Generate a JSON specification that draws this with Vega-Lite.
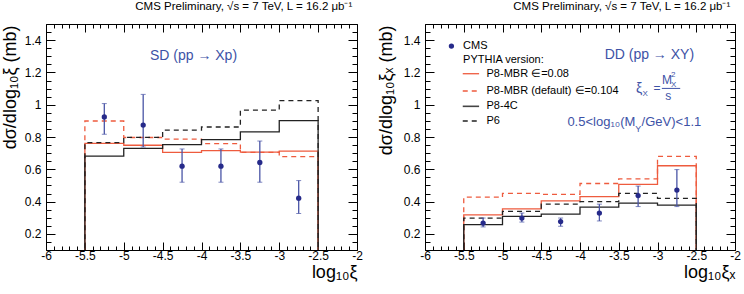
{
"$schema": "https://vega.github.io/schema/vega-lite/v6.json",
"padding": {"left": 0, "top": 0, "right": 0, "bottom": 0},
"background": "white",
"spacing": 13,
"config": {
  "view": {"stroke": "black", "strokeWidth": 1},
  "font": "Liberation Sans",
  "axis": {"domain": false, "grid": false, "labelFont": "Liberation Sans", "labelFontSize": 12, "labelColor": "black", "tickColor": "black", "tickWidth": 1, "titleFont": "Liberation Sans", "titleFontWeight": "normal", "titleColor": "black", "labelOverlap": false, "labelFlush": false, "labelBound": false},
  "title": {"font": "Liberation Sans", "fontWeight": "normal", "fontSize": 11.5, "color": "black", "anchor": "end", "dx": -10, "offset": 6, "baseline": "alphabetic"}
},
"datasets": {
  "hist": [
    {"panel":"SD","model":"P8-4C","i":0,"x":-5.5,"y":0},
    {"panel":"SD","model":"P8-4C","i":1,"x":-5.5,"y":0.681},
    {"panel":"SD","model":"P8-4C","i":2,"x":-5,"y":0.730},
    {"panel":"SD","model":"P8-4C","i":3,"x":-4.5,"y":0.753},
    {"panel":"SD","model":"P8-4C","i":4,"x":-4,"y":0.784},
    {"panel":"SD","model":"P8-4C","i":5,"x":-3.5,"y":0.832},
    {"panel":"SD","model":"P8-4C","i":6,"x":-3,"y":0.901},
    {"panel":"SD","model":"P8-4C","i":7,"x":-2.5,"y":0.901},
    {"panel":"SD","model":"P8-4C","i":8,"x":-2.5,"y":0},
    {"panel":"SD","model":"P6","i":0,"x":-5.5,"y":0},
    {"panel":"SD","model":"P6","i":1,"x":-5.5,"y":0.765},
    {"panel":"SD","model":"P6","i":2,"x":-5,"y":0.798},
    {"panel":"SD","model":"P6","i":3,"x":-4.5,"y":0.843},
    {"panel":"SD","model":"P6","i":4,"x":-4,"y":0.862},
    {"panel":"SD","model":"P6","i":5,"x":-3.5,"y":0.966},
    {"panel":"SD","model":"P6","i":6,"x":-3,"y":1.025},
    {"panel":"SD","model":"P6","i":7,"x":-2.5,"y":1.025},
    {"panel":"SD","model":"P6","i":8,"x":-2.5,"y":0},
    {"panel":"SD","model":"MBR008","i":0,"x":-5.5,"y":0},
    {"panel":"SD","model":"MBR008","i":1,"x":-5.5,"y":0.760},
    {"panel":"SD","model":"MBR008","i":2,"x":-5,"y":0.749},
    {"panel":"SD","model":"MBR008","i":3,"x":-4.5,"y":0.705},
    {"panel":"SD","model":"MBR008","i":4,"x":-4,"y":0.716},
    {"panel":"SD","model":"MBR008","i":5,"x":-3.5,"y":0.706},
    {"panel":"SD","model":"MBR008","i":6,"x":-3,"y":0.713},
    {"panel":"SD","model":"MBR008","i":7,"x":-2.5,"y":0.713},
    {"panel":"SD","model":"MBR008","i":8,"x":-2.5,"y":0},
    {"panel":"SD","model":"MBRdef","i":0,"x":-5.5,"y":0},
    {"panel":"SD","model":"MBRdef","i":1,"x":-5.5,"y":0.899},
    {"panel":"SD","model":"MBRdef","i":2,"x":-5,"y":0.797},
    {"panel":"SD","model":"MBRdef","i":3,"x":-4.5,"y":0.787},
    {"panel":"SD","model":"MBRdef","i":4,"x":-4,"y":0.759},
    {"panel":"SD","model":"MBRdef","i":5,"x":-3.5,"y":0.705},
    {"panel":"SD","model":"MBRdef","i":6,"x":-3,"y":0.679},
    {"panel":"SD","model":"MBRdef","i":7,"x":-2.5,"y":0.679},
    {"panel":"SD","model":"MBRdef","i":8,"x":-2.5,"y":0},
    {"panel":"DD","model":"P8-4C","i":0,"x":-5.5,"y":0},
    {"panel":"DD","model":"P8-4C","i":1,"x":-5.5,"y":0.257},
    {"panel":"DD","model":"P8-4C","i":2,"x":-5,"y":0.308},
    {"panel":"DD","model":"P8-4C","i":3,"x":-4.5,"y":0.322},
    {"panel":"DD","model":"P8-4C","i":4,"x":-4,"y":0.365},
    {"panel":"DD","model":"P8-4C","i":5,"x":-3.5,"y":0.390},
    {"panel":"DD","model":"P8-4C","i":6,"x":-3,"y":0.378},
    {"panel":"DD","model":"P8-4C","i":7,"x":-2.5,"y":0.378},
    {"panel":"DD","model":"P8-4C","i":8,"x":-2.5,"y":0},
    {"panel":"DD","model":"P6","i":0,"x":-5.5,"y":0},
    {"panel":"DD","model":"P6","i":1,"x":-5.5,"y":0.298},
    {"panel":"DD","model":"P6","i":2,"x":-5,"y":0.339},
    {"panel":"DD","model":"P6","i":3,"x":-4.5,"y":0.384},
    {"panel":"DD","model":"P6","i":4,"x":-4,"y":0.400},
    {"panel":"DD","model":"P6","i":5,"x":-3.5,"y":0.451},
    {"panel":"DD","model":"P6","i":6,"x":-3,"y":0.420},
    {"panel":"DD","model":"P6","i":7,"x":-2.5,"y":0.420},
    {"panel":"DD","model":"P6","i":8,"x":-2.5,"y":0},
    {"panel":"DD","model":"MBR008","i":0,"x":-5.5,"y":0},
    {"panel":"DD","model":"MBR008","i":1,"x":-5.5,"y":0.318},
    {"panel":"DD","model":"MBR008","i":2,"x":-5,"y":0.355},
    {"panel":"DD","model":"MBR008","i":3,"x":-4.5,"y":0.404},
    {"panel":"DD","model":"MBR008","i":4,"x":-4,"y":0.431},
    {"panel":"DD","model":"MBR008","i":5,"x":-3.5,"y":0.506},
    {"panel":"DD","model":"MBR008","i":6,"x":-3,"y":0.622},
    {"panel":"DD","model":"MBR008","i":7,"x":-2.5,"y":0.622},
    {"panel":"DD","model":"MBR008","i":8,"x":-2.5,"y":0},
    {"panel":"DD","model":"MBRdef","i":0,"x":-5.5,"y":0},
    {"panel":"DD","model":"MBRdef","i":1,"x":-5.5,"y":0.427},
    {"panel":"DD","model":"MBRdef","i":2,"x":-5,"y":0.451},
    {"panel":"DD","model":"MBRdef","i":3,"x":-4.5,"y":0.445},
    {"panel":"DD","model":"MBRdef","i":4,"x":-4,"y":0.512},
    {"panel":"DD","model":"MBRdef","i":5,"x":-3.5,"y":0.541},
    {"panel":"DD","model":"MBRdef","i":6,"x":-3,"y":0.680},
    {"panel":"DD","model":"MBRdef","i":7,"x":-2.5,"y":0.680},
    {"panel":"DD","model":"MBRdef","i":8,"x":-2.5,"y":0}
  ],
  "cms": [
    {"panel":"SD","x":-5.25,"y":0.924,"lo":0.817,"hi":1.007},
    {"panel":"SD","x":-4.75,"y":0.874,"lo":0.738,"hi":1.064},
    {"panel":"SD","x":-4.25,"y":0.619,"lo":0.520,"hi":0.726},
    {"panel":"SD","x":-3.75,"y":0.619,"lo":0.520,"hi":0.726},
    {"panel":"SD","x":-3.25,"y":0.642,"lo":0.520,"hi":0.775},
    {"panel":"SD","x":-2.75,"y":0.421,"lo":0.326,"hi":0.530},
    {"panel":"DD","x":-5.25,"y":0.267,"lo":0.243,"hi":0.298},
    {"panel":"DD","x":-4.75,"y":0.298,"lo":0.273,"hi":0.329},
    {"panel":"DD","x":-4.25,"y":0.276,"lo":0.247,"hi":0.298},
    {"panel":"DD","x":-3.75,"y":0.329,"lo":0.280,"hi":0.384},
    {"panel":"DD","x":-3.25,"y":0.437,"lo":0.369,"hi":0.496},
    {"panel":"DD","x":-2.75,"y":0.471,"lo":0.369,"hi":0.598}
  ],
  "legend": [
    {"label":"CMS","x":-5.509,"y":1.363},
    {"label":"PYTHIA version:","x":-5.509,"y":1.279},
    {"label":"P8-MBR ∈=0.08","x":-5.206,"y":1.192},
    {"label":"P8-MBR (default) ∈=0.104","x":-5.206,"y":1.085},
    {"label":"P8-4C","x":-5.206,"y":0.990},
    {"label":"P6","x":-5.206,"y":0.899}
  ]
},
"hconcat": [
{
  "width": 311, "height": 226,
  "title": {"text": "CMS Preliminary, √s = 7 TeV, L = 16.2 μb⁻¹"},
  "resolve": {"axis": {"x": "independent", "y": "independent"}},
  "layer": [
    {"data": {"name": "hist"}, "transform": [{"filter": "datum.panel == 'SD' && datum.model == 'MBRdef'"}],
     "mark": {"type": "line", "interpolate": "step-after", "clip": true, "color": "#ee5b3e", "strokeWidth": 1.3, "strokeDash": [5,4]},
     "encoding": {
       "x": {"field": "x", "type": "quantitative", "scale": {"domain": [-6,-2], "nice": false, "zero": false},
             "axis": {"orient": "top", "values": [-6,-5.9,-5.8,-5.7,-5.6,-5.5,-5.4,-5.3,-5.2,-5.1,-5,-4.9,-4.8,-4.7,-4.6,-4.5,-4.4,-4.3,-4.2,-4.1,-4,-3.9,-3.8,-3.7,-3.6,-3.5,-3.4,-3.3,-3.2,-3.1,-3,-2.9,-2.8,-2.7,-2.6,-2.5,-2.4,-2.3,-2.2,-2.1,-2],
                      "tickSize": {"condition": {"test": "abs(datum.value*2-round(datum.value*2))<1e-6", "value": -8}, "value": -4},
                      "labels": false, "title": null}},
       "y": {"field": "y", "type": "quantitative", "scale": {"domain": [0.1,1.5], "nice": false, "zero": false},
             "axis": {"orient": "right", "values": [0.1,0.15,0.2,0.25,0.3,0.35,0.4,0.45,0.5,0.55,0.6,0.65,0.7,0.75,0.8,0.85,0.9,0.95,1,1.05,1.1,1.15,1.2,1.25,1.3,1.35,1.4,1.45,1.5],
                      "tickSize": {"condition": {"test": "abs(datum.value*5-round(datum.value*5))<1e-6", "value": -9}, "value": -5},
                      "labels": false, "title": null}},
       "order": {"field": "i"}}},
    {"data": {"name": "hist"}, "transform": [{"filter": "datum.panel == 'SD' && datum.model == 'MBR008'"}],
     "mark": {"type": "line", "interpolate": "step-after", "clip": true, "color": "#ee5b3e", "strokeWidth": 1.3},
     "encoding": {"x": {"field": "x", "type": "quantitative", "axis": null}, "y": {"field": "y", "type": "quantitative", "axis": null}, "order": {"field": "i"}}},
    {"data": {"name": "hist"}, "transform": [{"filter": "datum.panel == 'SD' && datum.model == 'P6'"}],
     "mark": {"type": "line", "interpolate": "step-after", "clip": true, "color": "#222222", "strokeWidth": 1.3, "strokeDash": [5,4]},
     "encoding": {"x": {"field": "x", "type": "quantitative", "axis": null}, "y": {"field": "y", "type": "quantitative", "axis": null}, "order": {"field": "i"}}},
    {"data": {"name": "hist"}, "transform": [{"filter": "datum.panel == 'SD' && datum.model == 'P8-4C'"}],
     "mark": {"type": "line", "interpolate": "step-after", "clip": true, "color": "#222222", "strokeWidth": 1.3},
     "encoding": {
       "x": {"field": "x", "type": "quantitative",
             "axis": {"orient": "bottom", "values": [-6,-5.9,-5.8,-5.7,-5.6,-5.5,-5.4,-5.3,-5.2,-5.1,-5,-4.9,-4.8,-4.7,-4.6,-4.5,-4.4,-4.3,-4.2,-4.1,-4,-3.9,-3.8,-3.7,-3.6,-3.5,-3.4,-3.3,-3.2,-3.1,-3,-2.9,-2.8,-2.7,-2.6,-2.5,-2.4,-2.3,-2.2,-2.1,-2],
                      "tickSize": {"condition": {"test": "abs(datum.value*2-round(datum.value*2))<1e-6", "value": -8}, "value": -4},
                      "labelExpr": "abs(datum.value*2-round(datum.value*2))<1e-6 ? toString(datum.value) : ''",
                      "labelPadding": 8,
                      "title": "log₁₀ξ", "titleFontSize": 18, "titleX": 311, "titleY": 27, "titleAlign": "right", "titleBaseline": "alphabetic"}},
       "y": {"field": "y", "type": "quantitative",
             "axis": {"orient": "left", "values": [0.1,0.15,0.2,0.25,0.3,0.35,0.4,0.45,0.5,0.55,0.6,0.65,0.7,0.75,0.8,0.85,0.9,0.95,1,1.05,1.1,1.15,1.2,1.25,1.3,1.35,1.4,1.45,1.5],
                      "tickSize": {"condition": {"test": "abs(datum.value*5-round(datum.value*5))<1e-6", "value": -9}, "value": -5},
                      "labelExpr": "abs(datum.value*5-round(datum.value*5))<1e-6 ? toString(datum.value) : ''",
                      "labelPadding": 14,
                      "title": "dσ/dlog₁₀ξ (mb)", "titleFontSize": 18, "titleAngle": 270, "titleX": -31, "titleY": 1, "titleAlign": "right", "titleBaseline": "alphabetic"}},
       "order": {"field": "i"}}},
    {"data": {"name": "cms"}, "transform": [{"filter": "datum.panel == 'SD'"}],
     "mark": {"type": "errorbar", "ticks": {"size": 5, "color": "#4a55a6"}, "rule": {"color": "#4a55a6", "strokeWidth": 1.3}},
     "encoding": {"x": {"field": "x", "type": "quantitative", "axis": null}, "y": {"field": "lo", "type": "quantitative", "axis": null}, "y2": {"field": "hi"}}},
    {"data": {"name": "cms"}, "transform": [{"filter": "datum.panel == 'SD'"}],
     "mark": {"type": "point", "filled": true, "size": 28, "color": "#262a8a", "opacity": 1},
     "encoding": {"x": {"field": "x", "type": "quantitative", "axis": null}, "y": {"field": "y", "type": "quantitative", "axis": null}}},
    {"data": {"values": [{}]},
     "mark": {"type": "text", "text": "SD (pp → Xp)", "fontSize": 14, "color": "#3d52a6", "align": "center", "baseline": "middle"},
     "encoding": {"x": {"datum": -4.103, "type": "quantitative", "axis": null}, "y": {"datum": 1.299, "type": "quantitative", "axis": null}}}
  ]
},
{
  "width": 310, "height": 226,
  "title": {"text": "CMS Preliminary, √s = 7 TeV, L = 16.2 μb⁻¹"},
  "resolve": {"axis": {"x": "independent", "y": "independent"}},
  "layer": [
    {"data": {"name": "hist"}, "transform": [{"filter": "datum.panel == 'DD' && datum.model == 'MBRdef'"}],
     "mark": {"type": "line", "interpolate": "step-after", "clip": true, "color": "#ee5b3e", "strokeWidth": 1.3, "strokeDash": [5,4]},
     "encoding": {
       "x": {"field": "x", "type": "quantitative", "scale": {"domain": [-6,-2], "nice": false, "zero": false},
             "axis": {"orient": "top", "values": [-6,-5.9,-5.8,-5.7,-5.6,-5.5,-5.4,-5.3,-5.2,-5.1,-5,-4.9,-4.8,-4.7,-4.6,-4.5,-4.4,-4.3,-4.2,-4.1,-4,-3.9,-3.8,-3.7,-3.6,-3.5,-3.4,-3.3,-3.2,-3.1,-3,-2.9,-2.8,-2.7,-2.6,-2.5,-2.4,-2.3,-2.2,-2.1,-2],
                      "tickSize": {"condition": {"test": "abs(datum.value*2-round(datum.value*2))<1e-6", "value": -8}, "value": -4},
                      "labels": false, "title": null}},
       "y": {"field": "y", "type": "quantitative", "scale": {"domain": [0.1,1.5], "nice": false, "zero": false},
             "axis": {"orient": "right", "values": [0.1,0.15,0.2,0.25,0.3,0.35,0.4,0.45,0.5,0.55,0.6,0.65,0.7,0.75,0.8,0.85,0.9,0.95,1,1.05,1.1,1.15,1.2,1.25,1.3,1.35,1.4,1.45,1.5],
                      "tickSize": {"condition": {"test": "abs(datum.value*5-round(datum.value*5))<1e-6", "value": -9}, "value": -5},
                      "labels": false, "title": null}},
       "order": {"field": "i"}}},
    {"data": {"name": "hist"}, "transform": [{"filter": "datum.panel == 'DD' && datum.model == 'MBR008'"}],
     "mark": {"type": "line", "interpolate": "step-after", "clip": true, "color": "#ee5b3e", "strokeWidth": 1.3},
     "encoding": {"x": {"field": "x", "type": "quantitative", "axis": null}, "y": {"field": "y", "type": "quantitative", "axis": null}, "order": {"field": "i"}}},
    {"data": {"name": "hist"}, "transform": [{"filter": "datum.panel == 'DD' && datum.model == 'P6'"}],
     "mark": {"type": "line", "interpolate": "step-after", "clip": true, "color": "#222222", "strokeWidth": 1.3, "strokeDash": [5,4]},
     "encoding": {"x": {"field": "x", "type": "quantitative", "axis": null}, "y": {"field": "y", "type": "quantitative", "axis": null}, "order": {"field": "i"}}},
    {"data": {"name": "hist"}, "transform": [{"filter": "datum.panel == 'DD' && datum.model == 'P8-4C'"}],
     "mark": {"type": "line", "interpolate": "step-after", "clip": true, "color": "#222222", "strokeWidth": 1.3},
     "encoding": {
       "x": {"field": "x", "type": "quantitative",
             "axis": {"orient": "bottom", "values": [-6,-5.9,-5.8,-5.7,-5.6,-5.5,-5.4,-5.3,-5.2,-5.1,-5,-4.9,-4.8,-4.7,-4.6,-4.5,-4.4,-4.3,-4.2,-4.1,-4,-3.9,-3.8,-3.7,-3.6,-3.5,-3.4,-3.3,-3.2,-3.1,-3,-2.9,-2.8,-2.7,-2.6,-2.5,-2.4,-2.3,-2.2,-2.1,-2],
                      "tickSize": {"condition": {"test": "abs(datum.value*2-round(datum.value*2))<1e-6", "value": -8}, "value": -4},
                      "labelExpr": "abs(datum.value*2-round(datum.value*2))<1e-6 ? toString(datum.value) : ''",
                      "labelPadding": 8,
                      "title": "log₁₀ξₓ", "titleFontSize": 18, "titleX": 310, "titleY": 27, "titleAlign": "right", "titleBaseline": "alphabetic"}},
       "y": {"field": "y", "type": "quantitative",
             "axis": {"orient": "left", "values": [0.1,0.15,0.2,0.25,0.3,0.35,0.4,0.45,0.5,0.55,0.6,0.65,0.7,0.75,0.8,0.85,0.9,0.95,1,1.05,1.1,1.15,1.2,1.25,1.3,1.35,1.4,1.45,1.5],
                      "tickSize": {"condition": {"test": "abs(datum.value*5-round(datum.value*5))<1e-6", "value": -9}, "value": -5},
                      "labelExpr": "abs(datum.value*5-round(datum.value*5))<1e-6 ? toString(datum.value) : ''",
                      "labelPadding": 14,
                      "title": "dσ/dlog₁₀ξₓ (mb)", "titleFontSize": 18, "titleAngle": 270, "titleX": -34, "titleY": 1, "titleAlign": "right", "titleBaseline": "alphabetic"}},
       "order": {"field": "i"}}},
    {"data": {"name": "cms"}, "transform": [{"filter": "datum.panel == 'DD'"}],
     "mark": {"type": "errorbar", "ticks": {"size": 5, "color": "#4a55a6"}, "rule": {"color": "#4a55a6", "strokeWidth": 1.3}},
     "encoding": {"x": {"field": "x", "type": "quantitative", "axis": null}, "y": {"field": "lo", "type": "quantitative", "axis": null}, "y2": {"field": "hi"}}},
    {"data": {"name": "cms"}, "transform": [{"filter": "datum.panel == 'DD'"}],
     "mark": {"type": "point", "filled": true, "size": 28, "color": "#262a8a", "opacity": 1},
     "encoding": {"x": {"field": "x", "type": "quantitative", "axis": null}, "y": {"field": "y", "type": "quantitative", "axis": null}}},
    {"data": {"values": [{}]},
     "mark": {"type": "point", "filled": true, "size": 28, "color": "#262a8a", "opacity": 1},
     "encoding": {"x": {"datum": -5.659, "type": "quantitative", "axis": null}, "y": {"datum": 1.363, "type": "quantitative", "axis": null}}},
    {"data": {"name": "legend"},
     "mark": {"type": "text", "fontSize": 11, "color": "black", "align": "left", "baseline": "middle"},
     "encoding": {"x": {"field": "x", "type": "quantitative", "axis": null}, "y": {"field": "y", "type": "quantitative", "axis": null}, "text": {"field": "label"}}},
    {"data": {"values": [{}]},
     "mark": {"type": "rule", "color": "#ee5b3e", "strokeWidth": 1.3},
     "encoding": {"x": {"datum": -5.513, "type": "quantitative", "axis": null}, "x2": {"datum": -5.302}, "y": {"datum": 1.192, "type": "quantitative", "axis": null}}},
    {"data": {"values": [{}]},
     "mark": {"type": "rule", "color": "#ee5b3e", "strokeWidth": 1.3, "strokeDash": [5,4]},
     "encoding": {"x": {"datum": -5.513, "type": "quantitative", "axis": null}, "x2": {"datum": -5.302}, "y": {"datum": 1.085, "type": "quantitative", "axis": null}}},
    {"data": {"values": [{}]},
     "mark": {"type": "rule", "color": "#444444", "strokeWidth": 1.6},
     "encoding": {"x": {"datum": -5.513, "type": "quantitative", "axis": null}, "x2": {"datum": -5.302}, "y": {"datum": 0.990, "type": "quantitative", "axis": null}}},
    {"data": {"values": [{}]},
     "mark": {"type": "rule", "color": "#222222", "strokeWidth": 1.3, "strokeDash": [5,4]},
     "encoding": {"x": {"datum": -5.513, "type": "quantitative", "axis": null}, "x2": {"datum": -5.302}, "y": {"datum": 0.899, "type": "quantitative", "axis": null}}},
    {"data": {"values": [{}]},
     "mark": {"type": "text", "text": "DD (pp → XY)", "fontSize": 14, "color": "#3d52a6", "align": "center", "baseline": "middle"},
     "encoding": {"x": {"datum": -3.105, "type": "quantitative", "axis": null}, "y": {"datum": 1.305, "type": "quantitative", "axis": null}}},
    {"data": {"values": [{}]},
     "mark": {"type": "text", "text": "ξ", "fontSize": 14, "color": "#3d52a6", "align": "center", "baseline": "middle"},
     "encoding": {"x": {"datum": -3.237, "type": "quantitative", "axis": null}, "y": {"datum": 1.095, "type": "quantitative", "axis": null}}},
    {"data": {"values": [{}]},
     "mark": {"type": "text", "text": "X", "fontSize": 8, "color": "#3d52a6", "align": "center", "baseline": "middle"},
     "encoding": {"x": {"datum": -3.16, "type": "quantitative", "axis": null}, "y": {"datum": 1.064, "type": "quantitative", "axis": null}}},
    {"data": {"values": [{}]},
     "mark": {"type": "text", "text": "=", "fontSize": 12, "color": "#3d52a6", "align": "center", "baseline": "middle"},
     "encoding": {"x": {"datum": -3.008, "type": "quantitative", "axis": null}, "y": {"datum": 1.101, "type": "quantitative", "axis": null}}},
    {"data": {"values": [{}]},
     "mark": {"type": "text", "text": "M", "fontSize": 12, "color": "#3d52a6", "align": "center", "baseline": "middle"},
     "encoding": {"x": {"datum": -2.879, "type": "quantitative", "axis": null}, "y": {"datum": 1.151, "type": "quantitative", "axis": null}}},
    {"data": {"values": [{}]},
     "mark": {"type": "text", "text": "2", "fontSize": 8, "color": "#3d52a6", "align": "center", "baseline": "middle"},
     "encoding": {"x": {"datum": -2.796, "type": "quantitative", "axis": null}, "y": {"datum": 1.182, "type": "quantitative", "axis": null}}},
    {"data": {"values": [{}]},
     "mark": {"type": "text", "text": "X", "fontSize": 8, "color": "#3d52a6", "align": "center", "baseline": "middle"},
     "encoding": {"x": {"datum": -2.79, "type": "quantitative", "axis": null}, "y": {"datum": 1.122, "type": "quantitative", "axis": null}}},
    {"data": {"values": [{}]},
     "mark": {"type": "rule", "color": "#3d52a6", "strokeWidth": 1},
     "encoding": {"x": {"datum": -2.944, "type": "quantitative", "axis": null}, "x2": {"datum": -2.707}, "y": {"datum": 1.101, "type": "quantitative", "axis": null}}},
    {"data": {"values": [{}]},
     "mark": {"type": "text", "text": "s", "fontSize": 12, "color": "#3d52a6", "align": "center", "baseline": "middle"},
     "encoding": {"x": {"datum": -2.86, "type": "quantitative", "axis": null}, "y": {"datum": 1.052, "type": "quantitative", "axis": null}}},
    {"data": {"values": [{}]},
     "mark": {"type": "text", "text": "0.5<log₁₀(M", "fontSize": 13, "color": "#3d52a6", "align": "right", "baseline": "middle"},
     "encoding": {"x": {"datum": -3.286, "type": "quantitative", "axis": null}, "y": {"datum": 0.893, "type": "quantitative", "axis": null}}},
    {"data": {"values": [{}]},
     "mark": {"type": "text", "text": "Y", "fontSize": 9, "color": "#3d52a6", "align": "left", "baseline": "middle"},
     "encoding": {"x": {"datum": -3.288, "type": "quantitative", "axis": null}, "y": {"datum": 0.852, "type": "quantitative", "axis": null}}},
    {"data": {"values": [{}]},
     "mark": {"type": "text", "text": "/GeV)<1.1", "fontSize": 13, "color": "#3d52a6", "align": "left", "baseline": "middle"},
     "encoding": {"x": {"datum": -3.205, "type": "quantitative", "axis": null}, "y": {"datum": 0.893, "type": "quantitative", "axis": null}}}
  ]
}
]
}
